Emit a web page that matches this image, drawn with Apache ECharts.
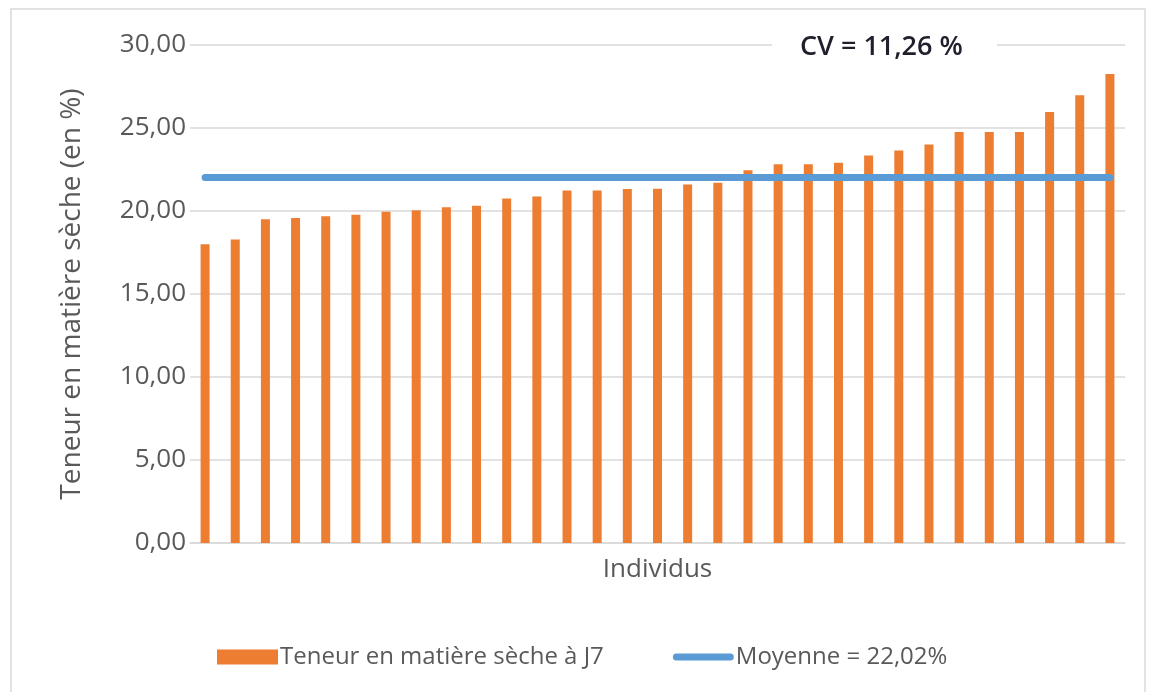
<!DOCTYPE html>
<html>
<head>
<meta charset="utf-8">
<script src="https://cdn.jsdelivr.net/npm/echarts@6/dist/echarts.min.js"></script>
<style>
  html, body { margin: 0; padding: 0; background: #fff; }
  #chart { width: 1154px; height: 692px; }
</style>
</head>
<body>
<div id="chart"></div>
<script>
var individus = [];
for (var i = 1; i <= 31; i++) individus.push("Ind " + i);

var teneur = [
  18.0, 18.29, 19.5, 19.58, 19.68, 19.78, 19.96, 20.04, 20.22, 20.32,
  20.76, 20.88, 21.24, 21.24, 21.33, 21.34, 21.6, 21.7, 22.45, 22.81,
  22.81, 22.91, 23.35, 23.65, 24.0, 24.76, 24.76, 24.76, 25.96, 26.97,
  28.25
];
var moyenne = 22.02;
var moyenneLine = individus.map(function () { return moyenne; });
var yTicks = [0, 5, 10, 15, 20, 25, 30];

var font = "'Open Sans', 'Liberation Sans', sans-serif";

var chartDom = document.getElementById("chart");
var myChart = echarts.init(chartDom);
var option;

option = {
  animation: false,
  textStyle: { fontFamily: font },
  grid: {
    left: 190,
    right: 29,
    top: 45,
    bottom: 149,
  },
  legend: {
    left: 212,
    top: 640,
    itemGap: 69,
    itemWidth: 61,
    itemHeight: 15,
    textStyle: { fontSize: 24, color: "#595959", padding: [0, 0, 0, -3] },
    data: [
      { name: "Teneur en matière sèche à J7", icon: "rect" },
      {
        name: "Moyenne = 22,02%",
        icon: "path://M3.5,0 H57.5 A3.5,3.5 0 0 1 57.5,7 H3.5 A3.5,3.5 0 0 1 3.5,0 Z",
        itemStyle: { color: "#5b9bd5" },
      },
    ],
  },
  xAxis: {
    type: "category",
    data: individus,
    name: "Individus",
    nameLocation: "middle",
    nameGap: 14,
    nameTextStyle: { fontSize: 26, color: "#595959" },
    axisLine: { lineStyle: { color: "#d9d9d9", width: 1.5 } },
    axisTick: { show: false },
    axisLabel: { show: false },
  },
  yAxis: {
    type: "value",
    min: yTicks[0],
    max: yTicks[yTicks.length - 1],
    interval: 5,
    name: "Teneur en matière sèche (en %)",
    nameLocation: "middle",
    nameGap: 104,
    nameTextStyle: { fontSize: 28, color: "#595959" },
    axisLine: { show: false },
    axisTick: { show: false },
    axisLabel: {
      fontSize: 26,
      color: "#595959",
      margin: 4,
      formatter: function (v) { return v.toFixed(2).replace(".", ","); },
    },
    splitLine: { lineStyle: { color: "#d9d9d9", width: 1.5 } },
  },
  graphic: [
    {
      type: "rect",
      shape: { x: 11, y: 9, width: 1134, height: 690 },
      style: { fill: null, stroke: "#d9d9d9", lineWidth: 1.5 },
      silent: true,
    },
    {
      type: "text",
      left: 772,
      top: 28,
      z: 100,
      style: {
        text: "CV = 11,26 %",
        fontSize: 27,
        fontFamily: font,
        fontWeight: 600,
        fill: "#1f1f2e",
        backgroundColor: "#fff",
        padding: [6, 34, 12, 28],
      },
    },
  ],
  series: [
    {
      name: "Teneur en matière sèche à J7",
      type: "bar",
      data: teneur,
      barWidth: 9,
      itemStyle: { color: "#ed7d31" },
    },
    {
      name: "Moyenne = 22,02%",
      type: "line",
      data: moyenneLine,
      symbol: "none",
      lineStyle: { color: "#5b9bd5", width: 7, cap: "round" },
      itemStyle: { color: "#5b9bd5" },
      z: 5,
    },
  ],
};

option && myChart.setOption(option);
</script>
</body>
</html>
